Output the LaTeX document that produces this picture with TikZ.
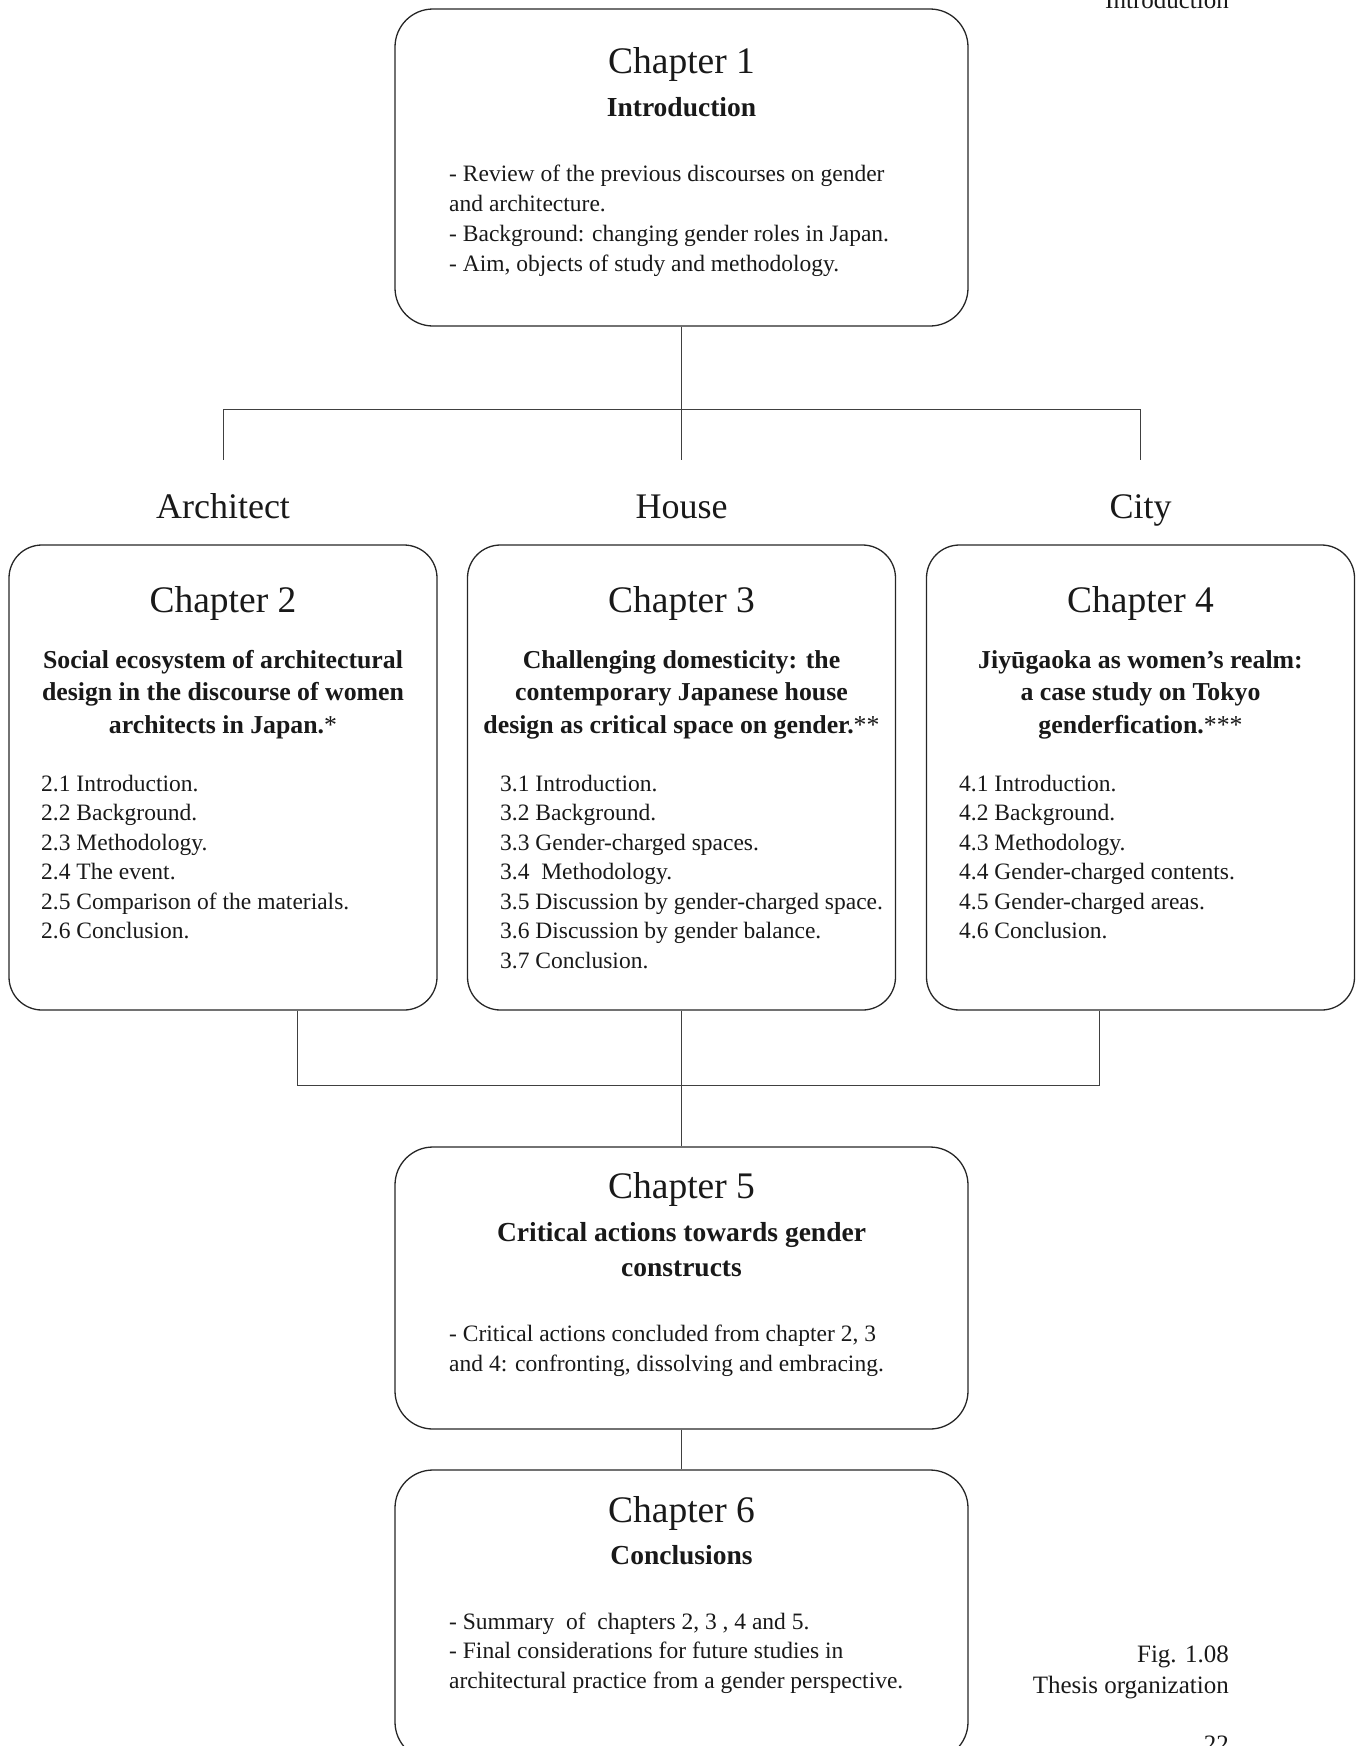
\documentclass[tikz,border=0pt]{standalone}
\usepackage{fontspec}
\setmainfont{Liberation Serif}
\usetikzlibrary{positioning}

\tikzset{
  chapbox/.style={draw=black!85, line width=1.3pt, rounded corners=38pt, minimum width=573pt, inner sep=0pt},
  sidebox/.style={chapbox, rounded corners=33pt, minimum width=428pt, minimum height=465pt},
  chaptitle/.style={anchor=base, inner sep=0pt, text=black!90, font=\fontsize{37.5}{44}\selectfont},
  bigsub/.style={anchor=base, inner sep=0pt, align=center, text=black!90, font=\fontsize{27.5}{35}\selectfont\bfseries},
  sidesub/.style={anchor=base, inner sep=0pt, align=center, text=black!90, font=\fontsize{25.8}{32.5}\selectfont\bfseries},
  bodytext/.style={anchor=base west, inner sep=0pt, align=left, text=black!90, font=\fontsize{23.5}{29.5}\selectfont},
  theme/.style={anchor=base, inner sep=0pt, text=black!90, font=\fontsize{36}{44}\selectfont},
  pagetext/.style={anchor=base east, inner sep=0pt, align=right, text=black!90, font=\fontsize{25}{31}\selectfont},
  link/.style={draw=black!75, line width=1pt}
}

\begin{document}
\begin{tikzpicture}[x=1pt, y=-1pt]
\path[use as bounding box, clip] (0,0) rectangle (1362,1746);

% chapter 1 (multi-line texts sit on their last baseline)
\node[chapbox, minimum height=317pt] (ch1) at (681.5,167.5) {};
\node[chaptitle] (ch1title) at (681.5,73.5) {Chapter 1};
\node[bigsub] (ch1sub) at (681.5,116) {Introduction};
\node[bodytext, font=\fontsize{23.5}{30}\selectfont] (ch1body) at (449,271) {- Review of the previous discourses on gender\\and architecture.\\- Background: changing gender roles in Japan.\\- Aim, objects of study and methodology.};

% themes
\node[theme] (arch) at (223,518) {Architect};
\node[theme] (house) at (681.5,518) {House};
\node[theme] (city) at (1140.5,518) {City};

% chapters 2 to 4
\node[sidebox] (ch2) at (223,777.5) {};
\node[sidebox] (ch3) at (681.5,777.5) {};
\node[sidebox] (ch4) at (1140.5,777.5) {};
\node[chaptitle] (ch2title) at (223,612.5) {Chapter 2};
\node[chaptitle] (ch3title) at (681.5,612.5) {Chapter 3};
\node[chaptitle] (ch4title) at (1140.5,612.5) {Chapter 4};
\node[sidesub] (ch2sub) at (223,733) {Social ecosystem of architectural\\design in the discourse of women\\architects in Japan.{\mdseries*}};
\node[sidesub] (ch3sub) at (681.5,733) {Challenging domesticity: the\\contemporary Japanese house\\design as critical space on gender.{\mdseries**}};
\node[sidesub] (ch4sub) at (1140.5,733) {Jiyūgaoka as women’s realm:\\a case study on Tokyo\\genderfication.{\mdseries***}};
\node[bodytext] (ch2body) at (41,938.5) {2.1 Introduction.\\2.2 Background.\\2.3 Methodology.\\2.4 The event.\\2.5 Comparison of the materials.\\2.6 Conclusion.};
\node[bodytext] (ch3body) at (500,968) {3.1 Introduction.\\3.2 Background.\\3.3 Gender-charged spaces.\\3.4\ \ Methodology.\\3.5 Discussion by gender-charged space.\\3.6 Discussion by gender balance.\\3.7 Conclusion.};
\node[bodytext] (ch4body) at (959,938.5) {4.1 Introduction.\\4.2 Background.\\4.3 Methodology.\\4.4 Gender-charged contents.\\4.5 Gender-charged areas.\\4.6 Conclusion.};

% chapter 5
\node[chapbox, minimum height=282pt] (ch5) at (681.5,1288) {};
\node[chaptitle] (ch5title) at (681.5,1198) {Chapter 5};
\node[bigsub] (ch5sub) at (681.5,1276) {Critical actions towards gender\\constructs};
\node[bodytext, font=\fontsize{23.5}{30}\selectfont] (ch5body) at (449,1371.5) {- Critical actions concluded from chapter 2, 3\\and 4: confronting, dissolving and embracing.};

% chapter 6
\node[chapbox, minimum height=290pt] (ch6) at (681.5,1615) {};
\node[chaptitle] (ch6title) at (681.5,1522) {Chapter 6};
\node[bigsub] (ch6sub) at (681.5,1564) {Conclusions};
\node[bodytext] (ch6body) at (449,1688) {- Summary\ \ of\ \ chapters 2, 3 , 4 and 5.\\- Final considerations for future studies in\\architectural practice from a gender perspective.};

% page texts
\node[pagetext] (header) at (1229,8) {Introduction};
\node[pagetext] (figcap) at (1229,1693) {Fig. 1.08\\Thesis organization};
\node[pagetext] (pagenum) at (1229,1752) {22};

% connectors
\coordinate (jl) at (223,409);
\coordinate (jr) at (1140.5,409);
\coordinate (bl) at (297,1085);
\coordinate (br) at (1099,1085);
\draw[link] (ch1.south) -- (ch1.south |- jl);
\draw[link] (jl) -- (jr);
\draw[link] (jl) -- ++(0,51);
\draw[link] (ch1.south |- jl) -- ++(0,51);
\draw[link] (jr) -- ++(0,51);
\draw[link] (bl |- ch2.south) -- (bl) -- (br) -- (br |- ch4.south);
\draw[link] (ch3.south) -- (ch5.north);
\draw[link] (ch5.south) -- (ch6.north);
\end{tikzpicture}
\end{document}
